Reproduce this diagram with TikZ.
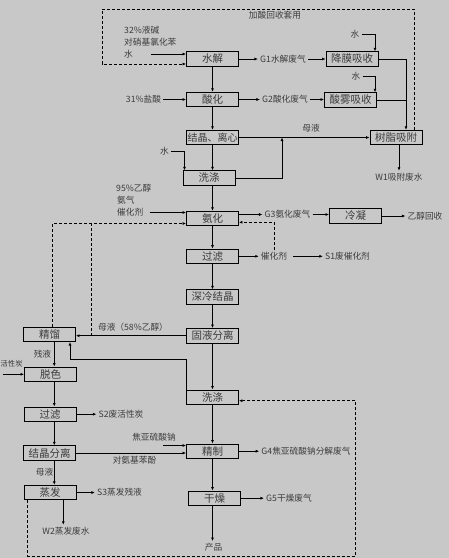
\documentclass[tikz,border=0pt]{standalone}
\usepackage{fontspec}
\setmainfont{Noto Sans CJK SC}
\usetikzlibrary{arrows.meta}
\definecolor{bg}{RGB}{200,200,200}
\definecolor{ink}{RGB}{60,60,60}

\begin{document}
\begin{tikzpicture}[x=1pt,y=-1pt,
    box/.style={draw=black, line width=0.9pt, minimum width=52pt, minimum height=14.5pt, inner sep=0pt, text=ink, font=\fontsize{10.5}{12}\selectfont},
    lbl/.style={text=ink, inner sep=2pt, font=\fontsize{8.7}{10}\selectfont},
    arr/.style={line width=0.7pt, -{Latex[length=3.5pt,width=3pt]}},
    dsh/.style={line width=0.7pt, dash pattern=on 3pt off 2pt}]
    \useasboundingbox (0,0) rectangle (449,558);
    \clip (0,0) rectangle (449,558);
    \fill[bg] (0,0) rectangle (449,558);

    % process boxes
    \node[box] (shuijie) at (212.5,59) {水解};
    \node[box] (jiangmo) at (352,59) {降膜吸收};
    \node[box] (suanhua) at (212.5,99.5) {酸化};
    \node[box] (suanwu) at (350.5,100) {酸雾吸收};
    \node[box, font=\fontsize{10}{12}\selectfont] (jiejing) at (212.5,137.5) {结晶、离心};
    \node[box] (shuzhi) at (396,137.5) {树脂吸附};
    \node[box] (xidi1) at (209,178) {洗涤};
    \node[box] (anhua) at (212.5,218.5) {氨化};
    \node[box] (lengning) at (355.5,216) {冷凝};
    \node[box] (guolv1) at (212.5,256.3) {过滤};
    \node[box] (shenleng) at (212.5,297) {深冷结晶};
    \node[box] (guye) at (212.5,335.7) {固液分离};
    \node[box] (jingliu) at (49.5,334.3) {精馏};
    \node[box] (tuose) at (50.5,374.2) {脱色};
    \node[box] (guolv2) at (50,414.2) {过滤};
    \node[box] (jiejingfl) at (49.5,453) {结晶分离};
    \node[box] (zhengfa) at (50,492.5) {蒸发};
    \node[box] (xidi2) at (212.5,397.2) {洗涤};
    \node[box] (jingzhi) at (212.5,451.2) {精制};
    \node[box] (ganzao) at (214.5,498.2) {干燥};

    % labels
    \node[lbl, anchor=west] (feeda) at (122,30) {32\%液碱};
    \node[lbl, anchor=west] (feedb) at (122,42) {对硝基氯化苯};
    \node[lbl, anchor=west] (feedc) at (122,54) {水};
    \node[lbl] (recyc) at (275,15) {加酸回收套用};
    \node[lbl] (g1) at (283,59) {G1水解废气};
    \node[lbl] (w1) at (355,34) {水};
    \node[lbl] (w2) at (356,76) {水};
    \node[lbl] (hcl) at (143.5,99.5) {31\%盐酸};
    \node[lbl] (g2) at (285,99.5) {G2酸化废气};
    \node[lbl] (ml1) at (311,128) {母液};
    \node[lbl] (w3) at (164.5,151) {水};
    \node[lbl] (w1out) at (399,177) {W1吸附废水};
    \node[lbl, anchor=west] (eth) at (114,188) {95\%乙醇};
    \node[lbl, anchor=west] (nh3) at (115,200) {氨气};
    \node[lbl, anchor=west] (cat1) at (115,212.5) {催化剂};
    \node[lbl] (g3) at (287.5,214.5) {G3氨化废气};
    \node[lbl] (ethrec) at (425,216) {乙醇回收};
    \node[lbl] (cat2) at (274,256.3) {催化剂};
    \node[lbl] (s1) at (347.5,256.3) {S1废催化剂};
    \node[lbl] (ml2) at (133,327) {母液（58\%乙醇）};
    \node[lbl] (canye) at (42.5,354) {残液};
    \node[lbl, anchor=west, inner sep=0.5pt, font=\fontsize{7.3}{9}\selectfont] (carbon) at (0,363.3) {活性炭};
    \node[lbl] (s2) at (121,414.2) {S2废活性炭};
    \node[lbl] (jiaoya) at (154,437.3) {焦亚硫酸钠};
    \node[lbl] (apap) at (134.5,460) {对氨基苯酚};
    \node[lbl] (ml3) at (44.5,471.7) {母液};
    \node[lbl] (s3) at (119.5,492.5) {S3蒸发残液};
    \node[lbl] (w2out) at (66,531) {W2蒸发废水};
    \node[lbl] (g4) at (306,451.2) {G4焦亚硫酸钠分解废气};
    \node[lbl] (g5) at (289,498.2) {G5干燥废气};
    \node[lbl] (prod) at (213.5,547.3) {产品};

    % upper section
    \draw[arr] ([xshift=16pt]feedc.east) -- (feedc -| shuijie.west);
    \coordinate (rtop) at (414,9);
    \coordinate (ltop) at (102,9);
    \draw[dsh,arr] (shuzhi.north -| rtop) -- (rtop) -- (ltop) |- ([yshift=-5pt]shuijie.west);
    \draw[arr] (shuijie.east) -- (g1.west);
    \draw[arr] (g1.east) -- (g1.east -| jiangmo.west);
    \draw[arr] (w1.east) -| ([xshift=23pt]jiangmo.north);
    \coordinate (rj) at ([xshift=10pt]shuzhi.north);
    \draw[arr] (jiangmo.east) -| (rj);
    \draw[line width=0.7pt] (suanwu.east) -- (suanwu.east -| rj);
    \draw[arr] (w2.east) -| ([xshift=24.5pt]suanwu.north);
    \draw[arr] (shuijie) -- (suanhua);
    \draw[arr] (hcl) -- (suanhua);
    \draw[arr] (suanhua) -- (g2);
    \draw[arr] (g2.east) -- (g2.east -| suanwu.west);
    \draw[arr] (suanhua) -- (jiejing);
    \draw[arr] (jiejing) -- (shuzhi);
    \coordinate (mj) at (282,137.5);
    \draw[arr] (xidi1.east) -| (mj);
    \draw[arr] (w3.east) -| ([xshift=-24.5pt]xidi1.north);
    \draw[arr] (jiejing.south) -- (jiejing.south |- xidi1.north);
    \draw[arr] (shuzhi.south -| w1out) -- (w1out.north);

    % ammoniation
    \draw[arr] (anhua.north |- xidi1.south) -- (anhua.north);
    \draw[arr] ([xshift=4pt]cat1.east) -- (cat1.east -| anhua.west);
    \coordinate (ah) at ([yshift=-5pt]anhua.west);
    \draw[dsh,arr] ([xshift=3pt]jingliu.north) |- (ah);
    \coordinate (mlj) at (91.7,335.7);
    \draw[dsh] (mlj) -- (mlj |- ah);
    \draw[arr] ([yshift=4pt]anhua.east) -- ([yshift=4pt]anhua.east -| g3.west);
    \draw[arr] (g3.east) -- (g3.east -| lengning.west);
    \draw[arr] (lengning.east) -- (ethrec.west);
    \draw[arr] (anhua) -- (guolv1);
    \draw[arr] (guolv1) -- (shenleng);
    \draw[arr] (shenleng) -- (guye);
    \draw[arr] (guolv1.east) -- (cat2.west);
    \draw[arr] ([xshift=4pt]cat2.east) -- (s1.west);
    \draw[dsh,arr] (cat2.north) |- ([yshift=-3.8pt]anhua.east);
    \draw[arr] (guye.west) -- (guye.west -| jingliu.east);
    \draw[arr] (guye) -- (xidi2);

    % left column
    \coordinate (wb) at (70,359);
    \draw[arr] (xidi2.north west) |- (wb) -- (wb |- jingliu.south);
    \coordinate (lc) at (54.3,0);
    \draw[arr] (jingliu.south -| lc) -- (tuose.north -| lc);
    \draw[arr] (tuose.south -| lc) -- (guolv2.north -| lc);
    \draw[arr] (guolv2.south -| lc) -- (jiejingfl.north -| lc);
    \draw[arr] (jiejingfl.south -| lc) -- (zhengfa.north -| lc);
    \coordinate (ac) at (3,374.3);
    \draw[arr] (ac) -- (ac -| tuose.west);
    \draw[arr] (guolv2.east) -- (s2.west);
    \draw[arr] (jiejingfl.east) -- (jiejingfl.east -| jingzhi.west);
    \coordinate (jy) at (163,445.5);
    \draw[arr] (jy) -- (jy -| jingzhi.west);
    \draw[arr] (zhengfa.east) -- (s3.west);
    \coordinate (zc) at (63.3,0);
    \draw[arr] (zhengfa.south -| zc) -- (w2out.north -| zc);
    \coordinate (db) at (27.3,556);
    \coordinate (dr) at (355.7,556);
    \draw[dsh,arr] (zhengfa.south -| db) -- (db) -- (dr) |- ([yshift=-3.5pt]xidi2.east);

    % refining
    \draw[arr] (xidi2) -- (jingzhi);
    \draw[arr] (jingzhi.east) -- (g4.west);
    \draw[arr] (jingzhi.south) -- (jingzhi.south |- ganzao.north);
    \draw[arr] (ganzao.east) -- (g5.west);
    \draw[arr] (jingzhi.south |- ganzao.south) -- (jingzhi.south |- prod.north);
\end{tikzpicture}
\end{document}
